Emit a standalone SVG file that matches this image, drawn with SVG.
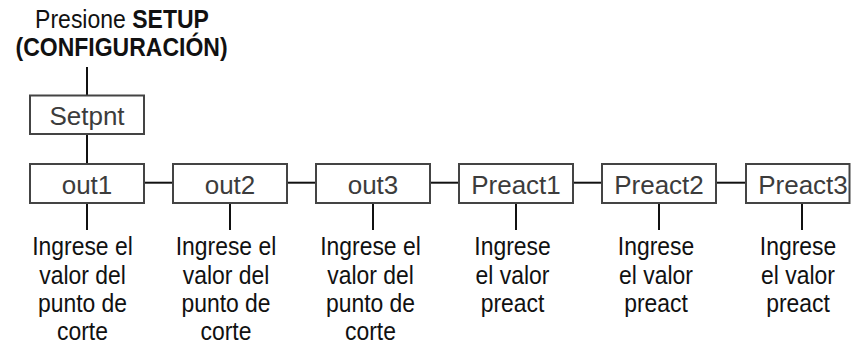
<svg xmlns="http://www.w3.org/2000/svg" width="851" height="343" viewBox="0 0 851 343">
<style>
.box{fill:#fff;stroke:#444;stroke-width:2}
.bt{font-family:"Liberation Sans",Arial,sans-serif;font-size:26px;fill:#3c3c3c;text-anchor:middle}
.lbl{font-family:"Liberation Sans",Arial,sans-serif;font-size:26.5px;fill:#111;text-anchor:middle}
.ttl{font-family:"Liberation Sans",Arial,sans-serif;font-size:25px;fill:#111;text-anchor:middle}
.c{stroke:#111;stroke-width:2;fill:none}
</style>
<rect width="851" height="343" fill="#fff"/>
<g id="title" transform="translate(122,0) scale(0.92,1)">
<text class="ttl" x="0" y="28.5">Presione <tspan font-weight="bold">SETUP</tspan></text>
<text class="ttl" x="-0.5" y="56" font-weight="bold">(CONFIGURACIÓN)</text>
</g>
<g id="connectors">
<line class="c" x1="87" y1="67" x2="87" y2="95"/>
<line class="c" x1="87" y1="134" x2="87" y2="164"/>
<line class="c" x1="144" y1="182.7" x2="173" y2="182.7"/>
<line class="c" x1="287" y1="182.7" x2="316" y2="182.7"/>
<line class="c" x1="430" y1="182.7" x2="459" y2="182.7"/>
<line class="c" x1="573" y1="182.7" x2="602" y2="182.7"/>
<line class="c" x1="716" y1="182.7" x2="746" y2="182.7"/>
<line class="c" x1="87" y1="203" x2="87" y2="230"/>
<line class="c" x1="230" y1="203" x2="230" y2="230"/>
<line class="c" x1="373" y1="203" x2="373" y2="230"/>
<line class="c" x1="516" y1="203" x2="516" y2="230"/>
<line class="c" x1="659" y1="203" x2="659" y2="230"/>
<line class="c" x1="802" y1="203" x2="802" y2="230"/>
</g>
<g id="setpnt">
<rect class="box" x="30" y="95.5" width="114" height="38.5"/>
<text class="bt" x="87" y="125">Setpnt</text>
</g>
<g id="out1">
<rect class="box" x="30" y="164" width="114" height="39"/>
<text class="bt" x="87" y="193.5">out1</text>
<g transform="translate(82.5,0) scale(0.865,1)">
<text class="lbl" x="0" y="255.5">Ingrese el</text>
<text class="lbl" x="0" y="283.8">valor del</text>
<text class="lbl" x="0" y="312">punto de</text>
<text class="lbl" x="0" y="340.3">corte</text>
</g>
</g>
<g id="out2">
<rect class="box" x="173" y="164" width="114" height="39"/>
<text class="bt" x="230" y="193.5">out2</text>
<g transform="translate(226,0) scale(0.865,1)">
<text class="lbl" x="0" y="255.5">Ingrese el</text>
<text class="lbl" x="0" y="283.8">valor del</text>
<text class="lbl" x="0" y="312">punto de</text>
<text class="lbl" x="0" y="340.3">corte</text>
</g>
</g>
<g id="out3">
<rect class="box" x="316" y="164" width="114" height="39"/>
<text class="bt" x="373" y="193.5">out3</text>
<g transform="translate(370.5,0) scale(0.865,1)">
<text class="lbl" x="0" y="255.5">Ingrese el</text>
<text class="lbl" x="0" y="283.8">valor del</text>
<text class="lbl" x="0" y="312">punto de</text>
<text class="lbl" x="0" y="340.3">corte</text>
</g>
</g>
<g id="preact1">
<rect class="box" x="459" y="164" width="114" height="39"/>
<text class="bt" x="516" y="193.5">Preact1</text>
<g transform="translate(512.5,0) scale(0.865,1)">
<text class="lbl" x="0" y="255.5">Ingrese</text>
<text class="lbl" x="0" y="283.8">el valor</text>
<text class="lbl" x="0" y="312">preact</text>
</g>
</g>
<g id="preact2">
<rect class="box" x="602" y="164" width="114" height="39"/>
<text class="bt" x="659" y="193.5">Preact2</text>
<g transform="translate(656,0) scale(0.865,1)">
<text class="lbl" x="0" y="255.5">Ingrese</text>
<text class="lbl" x="0" y="283.8">el valor</text>
<text class="lbl" x="0" y="312">preact</text>
</g>
</g>
<g id="preact3">
<rect class="box" x="746" y="164" width="103.5" height="39"/>
<text class="bt" x="803" y="193.5">Preact3</text>
<g transform="translate(798,0) scale(0.865,1)">
<text class="lbl" x="0" y="255.5">Ingrese</text>
<text class="lbl" x="0" y="283.8">el valor</text>
<text class="lbl" x="0" y="312">preact</text>
</g>
</g>
</svg>
